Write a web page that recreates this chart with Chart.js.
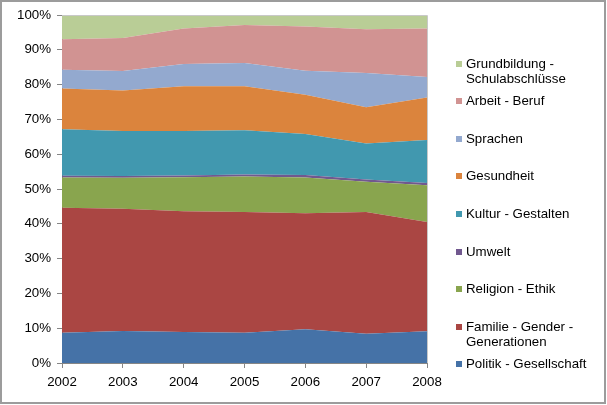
<!DOCTYPE html>
<html>
<head>
<meta charset="utf-8">
<script src="https://cdn.jsdelivr.net/npm/chart.js@4"></script>
<style>
  html, body { margin: 0; padding: 0; background: #fff; }
  #wrap { position: relative; width: 607px; height: 405px; }
  #frame { position: absolute; left: 0; top: 0; width: 606px; height: 404px; box-sizing: border-box; border: 2px solid #9c9c9c; pointer-events: none; }
  #legend { position: absolute; left: 456px; top: 0; font-family: "Liberation Sans", Arial, sans-serif; font-size: 13.3px; color: #000; }
  .item { position: absolute; left: 0; width: 140px; padding-left: 10px; line-height: 15px; }
  .box { position: absolute; left: 0; top: 5px; width: 6px; height: 6px; }
</style>
</head>
<body>
<div id="wrap">
  <canvas id="chart" width="607" height="405"></canvas>
  <div id="legend"></div>
  <div id="frame"></div>
</div>
<script>
const years = ['2002', '2003', '2004', '2005', '2006', '2007', '2008'];

// shares in percent, bottom series first
const politik      = [8.7, 9.2, 8.9, 8.7, 9.7, 8.4, 9.1];
const familie      = [35.9, 35.1, 34.7, 34.7, 33.3, 35.0, 31.4];
const religion     = [8.7, 8.9, 9.8, 10.2, 10.3, 8.7, 10.6];
const umwelt       = [0.5, 0.5, 0.5, 0.6, 0.7, 0.6, 0.6];
const kultur       = [13.4, 13.0, 12.8, 12.7, 11.8, 10.4, 12.4];
const gesundheit   = [11.7, 11.6, 12.8, 12.6, 11.3, 10.4, 12.2];
const sprachen     = [5.4, 5.6, 6.4, 6.7, 6.9, 9.8, 5.9];
const arbeit       = [8.7, 9.5, 10.2, 10.9, 12.7, 12.6, 13.9];
const grundbildung = [7.0, 6.6, 3.9, 2.9, 3.3, 4.1, 3.9];

const seriesNames = ['Politik - Gesellschaft', 'Familie - Gender - Generationen', 'Religion - Ethik',
  'Umwelt', 'Kultur - Gestalten', 'Gesundheit', 'Sprachen', 'Arbeit - Beruf', 'Grundbildung - Schulabschlüsse'];
const seriesData = [politik, familie, religion, umwelt, kultur, gesundheit, sprachen, arbeit, grundbildung];
const seriesColors = ['#4572A7', '#AA4643', '#89A54E', '#71588F', '#4198AF', '#DB843D', '#93A9CF', '#D19392', '#B9CD96'];

const yTicks = [0, 10, 20, 30, 40, 50, 60, 70, 80, 90, 100];

let datasets = [];
for (let i in seriesData) {
  datasets.push({
    label: seriesNames[i],
    data: seriesData[i],
    backgroundColor: seriesColors[i],
    borderColor: seriesColors[i],
    borderWidth: 0,
    pointRadius: 0,
    tension: 0,
    fill: i == 0 ? 'origin' : '-1'
  });
}

// light frame on top and right of the plot area
const plotFrame = {
  id: 'plotFrame',
  afterDraw(chart) {
    const a = chart.chartArea;
    const ctx = chart.ctx;
    ctx.save();
    ctx.strokeStyle = '#c8c8c8';
    ctx.lineWidth = 1;
    ctx.beginPath();
    ctx.moveTo(a.left, a.top + 0.5);
    ctx.lineTo(a.right + 0.5, a.top + 0.5);
    ctx.lineTo(a.right + 0.5, a.bottom);
    ctx.stroke();
    ctx.restore();
  }
};

const tickFont = { family: '"Liberation Sans", Arial, sans-serif', size: 13.3 };

new Chart(document.getElementById('chart'), {
  type: 'line',
  data: { labels: years, datasets: datasets },
  options: {
    responsive: false,
    animation: false,
    layout: { padding: { left: 0, top: 15, right: 180, bottom: 0 } },
    plugins: { legend: { display: false }, tooltip: { enabled: false } },
    scales: {
      x: {
        offset: false,
        grid: { offset: false, drawOnChartArea: false, tickLength: 5, color: '#868686' },
        border: { display: true, color: '#868686' },
        ticks: { color: '#000', font: tickFont, padding: 6, maxRotation: 0 },
        afterFit(scale) { scale.height = 42; }
      },
      y: {
        stacked: true,
        min: 0,
        max: 100,
        afterBuildTicks(scale) { scale.ticks = yTicks.map(v => ({ value: v })); },
        grid: { drawOnChartArea: false, tickLength: 5, color: '#868686' },
        border: { display: true, color: '#868686' },
        ticks: { color: '#000', font: tickFont, padding: 6, callback: v => v + '%' },
        afterFit(scale) { scale.width = 62; }
      }
    }
  },
  plugins: [plotFrame]
});

// legend, top entry first (reverse of stacking order)
const legendBox = document.getElementById('legend');
for (let k = 0; k < seriesNames.length; k++) {
  const i = seriesNames.length - 1 - k;
  const item = document.createElement('div');
  item.className = 'item';
  item.style.top = (55.5 + k * 37.6) + 'px';
  item.innerHTML = '<span class="box" style="background:' + seriesColors[i] + '"></span>' + seriesNames[i];
  legendBox.appendChild(item);
}
</script>
</body>
</html>
